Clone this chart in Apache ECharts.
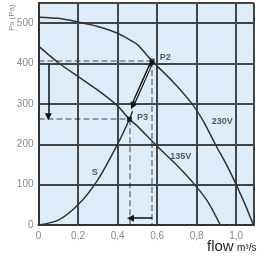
<!DOCTYPE html>
<html><head><meta charset="utf-8">
<script src="https://cdn.jsdelivr.net/npm/echarts@6/dist/echarts.min.js"></script>
<style>html,body{margin:0;padding:0;background:#fff}#c{width:268px;height:259px}</style>
</head><body><div id="c"></div>
<script>
const flow230 = [0, 0.1, 0.2, 0.3, 0.4, 0.5, 0.575, 0.68, 0.777, 0.84, 0.894, 0.95, 1.0, 1.05, 1.087];
const p230    = [515, 512, 503, 492, 475, 447, 406, 355, 300, 252, 200, 150, 100, 45, 0];
const flow135 = [0, 0.1, 0.2, 0.3, 0.4, 0.46, 0.5, 0.6, 0.7, 0.79, 0.86, 0.92];
const p135    = [443, 402, 368, 334, 295, 262, 245, 195, 148, 100, 55, 0];
const flowS   = [0, 0.1, 0.2, 0.3, 0.4, 0.46, 0.475];
const pS      = [0, 12, 50, 112, 200, 262, 282];
const P2 = [0.575, 406];
const P3 = [0.46, 262];
const xTicks = ['0', '0,2', '0,4', '0,6', '0,8', '1,0'];
const yTicks = ['0', '100', '200', '300', '400', '500'];
const curveLabels = [['230V', 0.93, 256], ['135V', 0.72, 170], ['S', 0.285, 130]];

const zip = (a, b) => a.map((v, i) => [v, b[i]]);
const chart = echarts.init(document.getElementById('c'));
const dash = {type: 'dashed', color: '#111', width: 1.5};
chart.setOption({
  animation: false,
  grid: {left: 38.5, right: 14, top: 3, bottom: 34, show: true, backgroundColor: '#dcecf8', borderColor: '#999', borderWidth: 1},
  xAxis: {type: 'value', min: 0, max: 1.09, interval: 0.2,
    axisLine: {lineStyle: {color: '#333', width: 2}}, axisTick: {show: false},
    splitLine: {lineStyle: {color: '#444', width: 2}},
    axisLabel: {color: '#8a8a8a', fontSize: 10, fontFamily: 'Arial', showMaxLabel: false, margin: 6,
      formatter: v => xTicks[Math.round(v / 0.2)] ?? ''}},
  yAxis: {type: 'value', min: 0, max: 550, interval: 100,
    axisLine: {show: true, lineStyle: {color: '#333', width: 2}}, axisTick: {show: false},
    splitLine: {lineStyle: {color: '#444', width: 2}},
    axisLabel: {color: '#8a8a8a', fontSize: 10, fontFamily: 'Arial', showMaxLabel: false, margin: 5,
      formatter: v => yTicks[Math.round(v / 100)] ?? ''}},
  graphic: [
    {type: 'text', x: 8, y: 31, rotation: Math.PI / 2, style: {text: 'Ps (Pa)', fill: '#8a8a8a', font: '8px Arial'}},
    {type: 'text', x: 207, y: 239, style: {text: 'flow', fill: '#222', font: '15px Arial'}},
    {type: 'text', x: 237, y: 243, style: {text: 'm³/s', fill: '#222', font: '10px Arial'}}
  ],
  series: [
    {type: 'line', data: zip(flow230, p230), smooth: 0.2, showSymbol: false, lineStyle: {color: '#333', width: 1.5}, z: 5},
    {type: 'line', data: zip(flow135, p135), smooth: 0.2, showSymbol: false, lineStyle: {color: '#333', width: 1.5}, z: 5},
    {type: 'line', data: zip(flowS, pS), smooth: 0.3, showSymbol: false, lineStyle: {color: '#333', width: 1.5}, z: 5},
    {type: 'lines', coordinateSystem: 'cartesian2d', z: 4, lineStyle: dash, symbol: 'none',
      data: [
        {coords: [[0, P2[1]], P2]},
        {coords: [[0, P3[1]], P3]},
        {coords: [P2, [P2[0], 0]]},
        {coords: [P3, [P3[0], 0]]}
      ]},
    {type: 'lines', coordinateSystem: 'cartesian2d', z: 6, symbol: ['none', 'triangle'], symbolSize: 7,
      lineStyle: {color: '#111', width: 1.5, opacity: 1},
      data: [
        {coords: [[0.05, 398], [0.05, 268]]},
        {coords: [[P2[0], 17], [P3[0] + 0.005, 17]]},
        {coords: [P2, [0.475, 295]], lineStyle: {width: 3.5}}
      ]},
    {type: 'lines', coordinateSystem: 'cartesian2d', z: 7, symbol: 'none',
      lineStyle: {color: '#f4f8fb', width: 1, opacity: 1},
      data: [{coords: [[0.565, 393], [0.485, 306]]}]},
    {type: 'scatter', z: 8, symbol: 'rect', symbolSize: 5, itemStyle: {color: '#111'},
      data: [{value: P2, label: {show: true, formatter: 'P2', position: 'right', offset: [0, -4]}},
             {value: P3, label: {show: true, formatter: 'P3', position: 'right', offset: [0, -2]}}],
      label: {color: '#333', fontSize: 9, fontFamily: 'Arial', fontWeight: 'bold'}},
    {type: 'scatter', z: 8, symbolSize: 0,
      data: curveLabels.map(d => ({value: [d[1], d[2]], label: {show: true, formatter: d[0], position: 'inside'}})),
      label: {color: '#333', fontSize: 9, fontFamily: 'Arial', fontWeight: 'bold'}}
  ]
});
</script></body></html>
